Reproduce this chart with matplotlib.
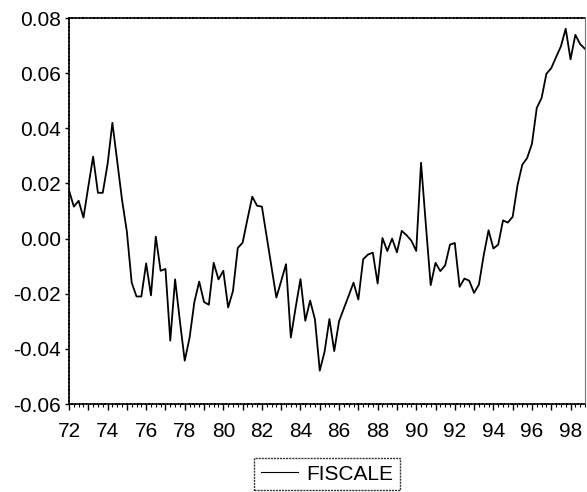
import numpy as np
import matplotlib
matplotlib.use("Agg")
import matplotlib.pyplot as plt
from matplotlib.ticker import MultipleLocator, FuncFormatter

plt.rcParams['font.family'] = ['Liberation Sans', 'DejaVu Sans']

# quarterly series, 1972Q1 - 1998Q4
start_year = 1972
fiscale = [
    0.0175, 0.0116, 0.0137, 0.0076, 0.0188, 0.0297, 0.0166, 0.0166,   # 72-73
    0.0270, 0.0420, 0.0280, 0.0140, 0.0025, -0.0160, -0.0210, -0.0210,  # 74-75
    -0.0090, -0.0206, 0.0007, -0.0117, -0.0110, -0.0370, -0.0148, -0.0300,  # 76-77
    -0.0443, -0.0360, -0.0230, -0.0156, -0.0230, -0.0240, -0.0088, -0.0148,  # 78-79
    -0.0117, -0.0250, -0.0190, -0.0034, -0.0015, 0.0070, 0.0152, 0.0119,   # 80-81
    0.0116, 0.0006, -0.0104, -0.0214, -0.0154, -0.0093, -0.0359, -0.0250,  # 82-83
    -0.0147, -0.0298, -0.0225, -0.0293, -0.0479, -0.0410, -0.0292, -0.0408,  # 84-85
    -0.0300, -0.0253, -0.0207, -0.0160, -0.0221, -0.0075, -0.0058, -0.0051,  # 86-87
    -0.0163, 0.0002, -0.0045, 0.0000, -0.0050, 0.0028, 0.0012, -0.0008,   # 88-89
    -0.0045, 0.0275, 0.0050, -0.0169, -0.0088, -0.0118, -0.0097, -0.0022,  # 90-91
    -0.0016, -0.0175, -0.0145, -0.0153, -0.0197, -0.0167, -0.0060, 0.0030,  # 92-93
    -0.0036, -0.0022, 0.0066, 0.0058, 0.0079, 0.0193, 0.0268, 0.0292,     # 94-95
    0.0344, 0.0474, 0.0510, 0.0598, 0.0618, 0.0658, 0.0697, 0.0761,       # 96-97
    0.0650, 0.0739, 0.0705, 0.0688,                                       # 98
]
yticks = [-0.06, -0.04, -0.02, 0.00, 0.02, 0.04, 0.06, 0.08]

dates = start_year + np.arange(len(fiscale)) / 4.0

fig = plt.figure(figsize=(5.87, 4.92), dpi=100)
ax = fig.add_axes([69 / 587, 1 - 404 / 492, 516 / 587, 386 / 492])

line, = ax.plot(dates, fiscale, color='black', lw=1.3, label='FISCALE')

ax.set_xlim(dates[0], dates[-1])
ax.set_ylim(-0.06, 0.08)
ax.set_yticks(yticks)
ax.yaxis.set_major_formatter(FuncFormatter(lambda v, p: f"{v:.2f}"))

ax.xaxis.set_major_locator(MultipleLocator(1))
ax.xaxis.set_minor_locator(MultipleLocator(0.25))
ax.xaxis.set_major_formatter(
    FuncFormatter(lambda v, p: f"{int(round(v)) % 100:02d}" if int(round(v)) % 2 == 0 else ""))

ax.tick_params(axis='x', which='major', length=4, width=1, labelsize=15, pad=9)
ax.tick_params(axis='x', which='minor', length=2.2, width=0.8)
ax.tick_params(axis='y', which='major', length=3, width=1, labelsize=15, pad=3)

for side in ['left', 'bottom', 'top']:
    ax.spines[side].set_linestyle((0, (1.5, 0.7)))
    ax.spines[side].set_linewidth(1.2)
ax.spines['right'].set_linestyle((0, (1.5, 1)))
ax.spines['right'].set_color('#777777')
ax.spines['right'].set_linewidth(0.8)

leg = fig.legend(handles=[line], loc='center', bbox_to_anchor=(327 / 587, 1 - 474 / 492),
                 fontsize=15, frameon=True, fancybox=False, handlelength=1.8,
                 handletextpad=0.4, borderpad=0.3, borderaxespad=0)
leg.get_frame().set_edgecolor('black')
leg.get_frame().set_linestyle((0, (1.5, 0.7)))
leg.get_frame().set_linewidth(1.0)
leg.get_lines()[0].set_linewidth(0.8)

fig.savefig('out.png', dpi=100)
